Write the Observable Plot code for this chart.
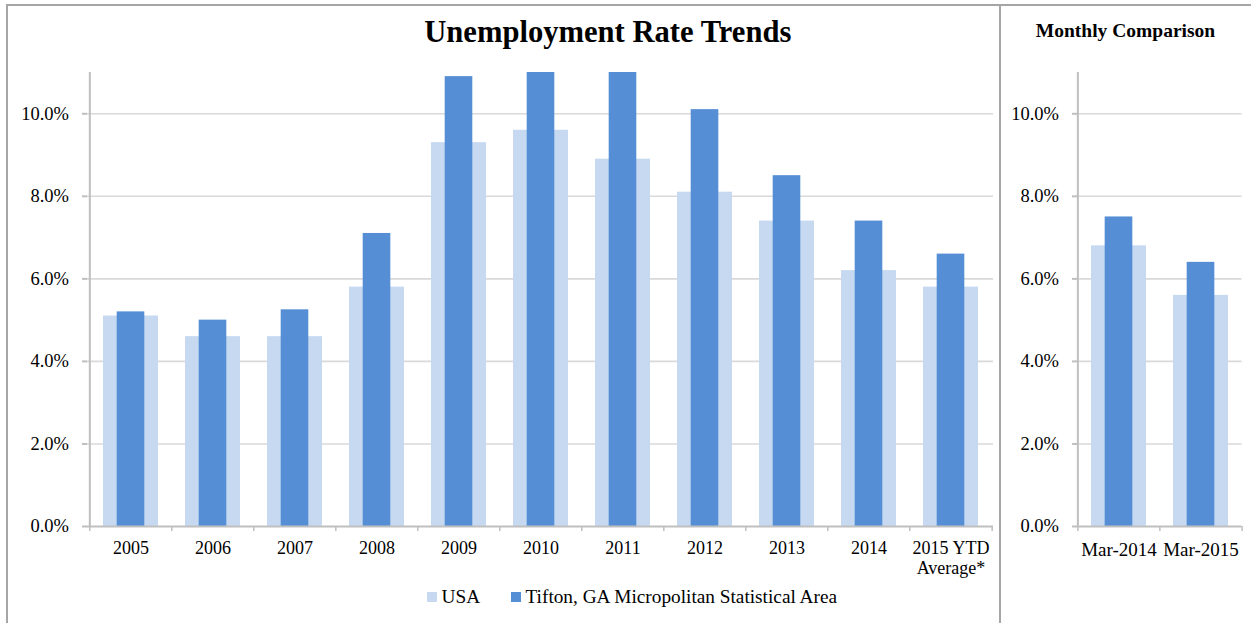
<!DOCTYPE html>
<html>
<head>
<meta charset="utf-8">
<script src="https://cdn.jsdelivr.net/npm/d3@7"></script>
<script src="https://cdn.jsdelivr.net/npm/@observablehq/plot@0.6"></script>
<style>
  html, body { margin: 0; padding: 0; background: #ffffff; }
  #root { position: relative; width: 1251px; height: 623px; overflow: hidden;
          font-family: "Liberation Serif", "Times New Roman", serif; color: #000; background:#fff; }
  .abs { position: absolute; }
  .title { line-height: 1; font-weight: bold; white-space: nowrap; transform: translateX(-50%); }
  .line { background: #a6a6a6; }
  .legend { line-height: 1; font-size: 19.3px; white-space: nowrap; }
  svg text { font-family: "Liberation Serif", "Times New Roman", serif; }
</style>
</head>
<body>
<div id="root"></div>
<script>
// ---- data ----
const years = ["2005", "2006", "2007", "2008", "2009", "2010", "2011", "2012", "2013", "2014", "2015 YTD\nAverage*"];
const usaAnnual = [5.1, 4.6, 4.6, 5.8, 9.3, 9.6, 8.9, 8.1, 7.4, 6.2, 5.8];
const tiftonAnnual = [5.2, 5.0, 5.25, 7.1, 10.9, 11.0, 11.0, 10.1, 8.5, 7.4, 6.6];
const months = ["Mar-2014", "Mar-2015"];
const usaMonthly = [6.8, 5.6];
const tiftonMonthly = [7.5, 6.4];
const yTicks = [0, 2, 4, 6, 8, 10];
const seriesNames = ["USA", "Tifton, GA Micropolitan Statistical Area"];
const seriesColors = ["#c6d9f1", "#558ed5"];
const mainTitle = "Unemployment Rate Trends";
const sideTitle = "Monthly Comparison";

const root = document.getElementById("root");
const axisColor = "#bfbfbf";
const gridColor = "#d9d9d9";
const serif = '"Liberation Serif", "Times New Roman", serif';
const pIn = 0.335;

function panel(cats, usa, tif, opts) {
  const data = cats.map((c, i) => ({cat: c, usa: usa[i], tif: tif[i]}));
  const step = (opts.width - opts.marginLeft - opts.marginRight) / cats.length;
  const bw = step * (1 - pIn);
  const last = cats[cats.length - 1];
  const svg = Plot.plot({
    width: opts.width,
    height: opts.height,
    marginLeft: opts.marginLeft,
    marginRight: opts.marginRight,
    marginTop: opts.marginTop,
    marginBottom: opts.marginBottom,
    style: {fontFamily: serif, background: "transparent", overflow: "visible", color: "#000"},
    x: {domain: cats, paddingInner: pIn, paddingOuter: pIn / 2, axis: null},
    y: {domain: [0, 11], axis: null},
    marks: [
      Plot.gridY(yTicks.filter(d => d > 0), {stroke: gridColor, strokeOpacity: 1, strokeWidth: 1.6}),
      Plot.barY(data, {x: "cat", y: "usa", fill: seriesColors[0]}),
      Plot.barY(data, {x: "cat", y: "tif", fill: seriesColors[1], insetLeft: bw / 4, insetRight: bw / 4}),
      Plot.ruleY([0], {stroke: axisColor, strokeWidth: 2}),
      Plot.ruleX([cats[0]], {x: d => d, y1: 0, y2: 11, dx: -step / 2, stroke: axisColor, strokeWidth: 2}),
      Plot.axisY(yTicks, {tickSize: 5, tickPadding: 13.5, tickFormat: d => d.toFixed(1) + "%",
        stroke: axisColor, strokeWidth: 2, fill: "#000", fontSize: opts.yFont, fontFamily: serif, label: null}),
      Plot.axisX(cats, {tickSize: 5, tickFormat: () => "", dx: -step / 2, stroke: axisColor, strokeWidth: 1.5, label: null}),
      Plot.axisX([last], {tickSize: 5, tickFormat: () => "", dx: step / 2, stroke: axisColor, strokeWidth: 1.5, label: null}),
      Plot.axisX(cats, {tickSize: 0, tickPadding: opts.xPad, fill: "#000", fontSize: opts.xFont, fontFamily: serif, lineHeight: 1.1, label: null})
    ]
  });
  svg.setAttribute("font-family", serif);
  return svg;
}

// left panel
const left = panel(years, usaAnnual, tiftonAnnual,
  {width: 1000, height: 580, marginLeft: 87, marginRight: 7, marginTop: 72, marginBottom: 54, yFont: 18.5, xFont: 18, xPad: 13.5});
left.classList.add("abs");
left.style.left = "0px"; left.style.top = "0px";
root.appendChild(left);

// right panel
const right = panel(months, usaMonthly, tiftonMonthly,
  {width: 251, height: 580, marginLeft: 77, marginRight: 9.5, marginTop: 72, marginBottom: 54, yFont: 18.5, xFont: 19, xPad: 15});
right.classList.add("abs");
right.style.left = "1000px"; right.style.top = "0px";
root.appendChild(right);

// frame lines
function addLine(l, t, w, h) {
  const d = document.createElement("div");
  d.className = "abs line";
  Object.assign(d.style, {left: l + "px", top: t + "px", width: w + "px", height: h + "px"});
  root.appendChild(d);
}
addLine(5.5, 3.5, 1245.5, 2);
addLine(5.5, 3.5, 2, 620);
addLine(998.5, 3.5, 2, 620);

// titles
function addTitle(text, cx, top, size) {
  const d = document.createElement("div");
  d.className = "abs title";
  d.textContent = text;
  Object.assign(d.style, {left: cx + "px", top: top + "px", fontSize: size + "px"});
  root.appendChild(d);
}
addTitle(mainTitle, 607.8, 17.2, 30.6);
addTitle(sideTitle, 1125.5, 21.0, 19.5);

// legend
const legendX = [427, 511];
seriesNames.forEach((name, i) => {
  const sw = document.createElement("div");
  sw.className = "abs";
  Object.assign(sw.style, {left: legendX[i] + "px", top: "592.3px", width: "9.5px", height: "9.5px", background: seriesColors[i]});
  root.appendChild(sw);
  const t = document.createElement("div");
  t.className = "abs legend";
  t.textContent = name;
  Object.assign(t.style, {left: (legendX[i] + 14.5) + "px", top: "587.2px"});
  root.appendChild(t);
});
</script>
</body>
</html>
